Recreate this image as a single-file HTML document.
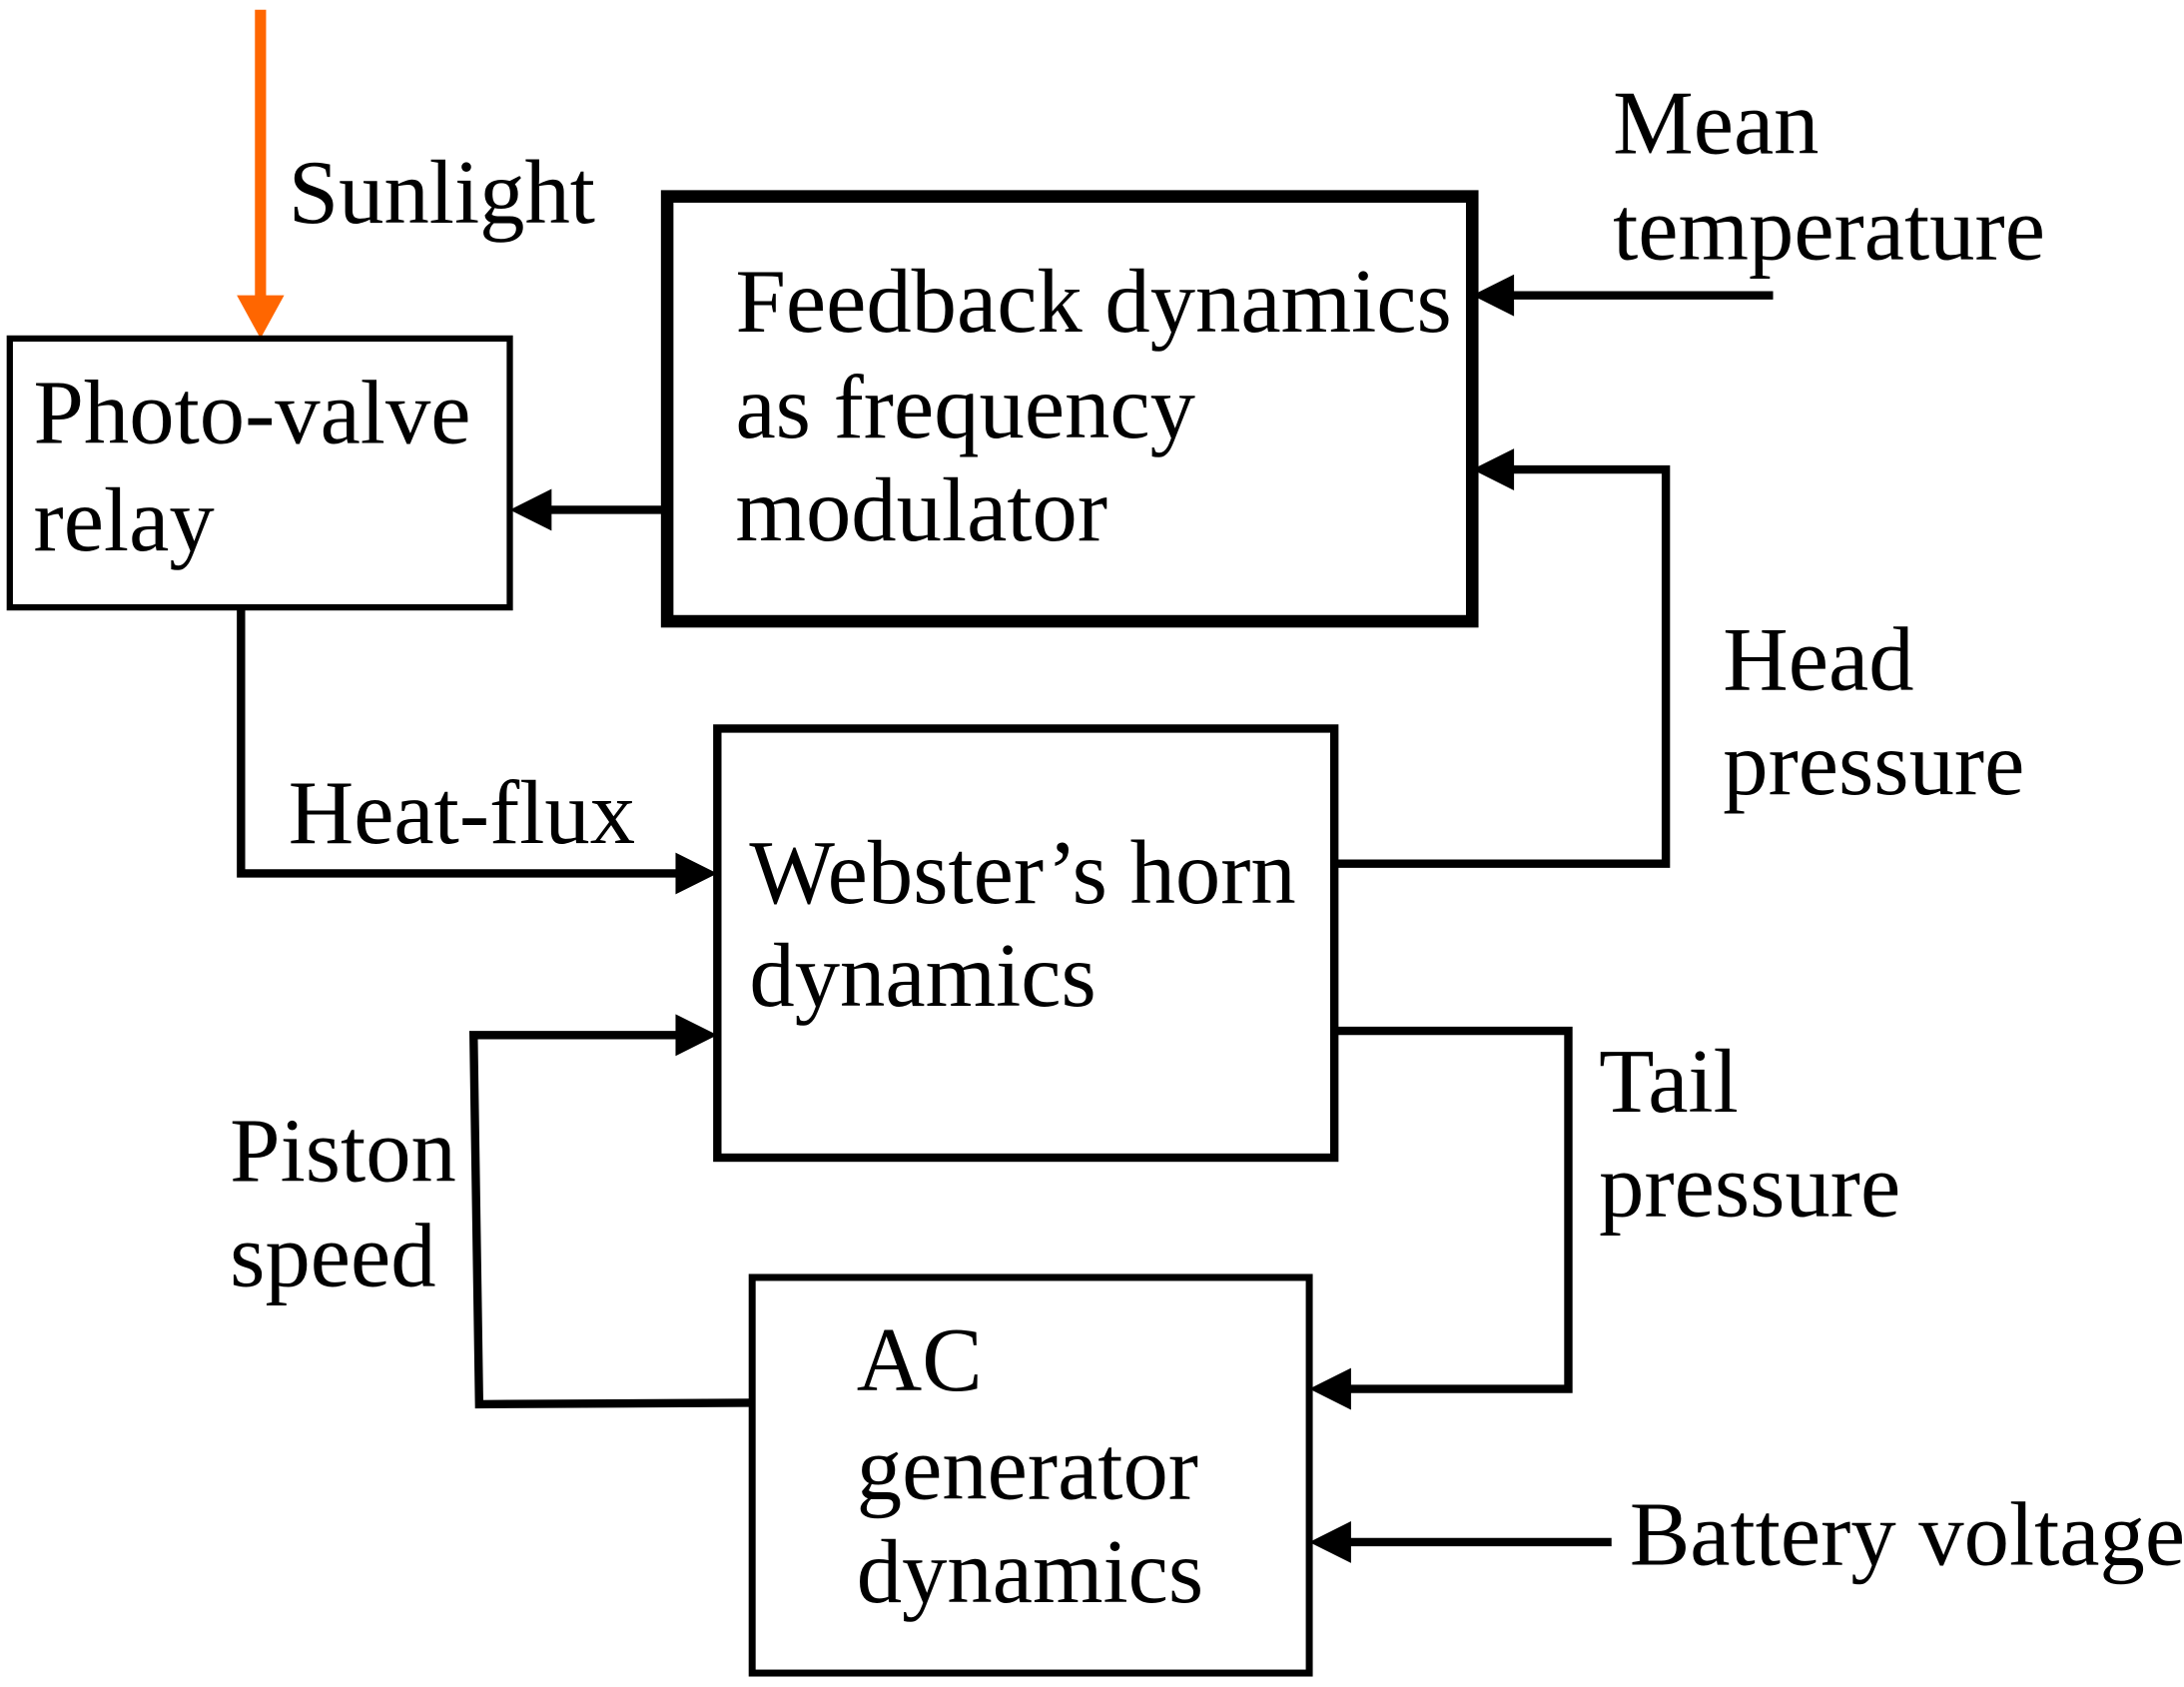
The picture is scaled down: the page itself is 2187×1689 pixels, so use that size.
<!DOCTYPE html>
<html><head><meta charset="utf-8"><style>
html,body{margin:0;padding:0;background:#fff;}
svg{display:block;}
text{font-family:"Liberation Serif",serif;font-size:65px;fill:#000;}
</style></head><body>
<svg width="2187" height="1689" viewBox="0 0 1568 1211" xmlns="http://www.w3.org/2000/svg">
<rect width="1568" height="1211" fill="#fff"/>
<line x1="187" y1="7" x2="187" y2="215" stroke="#ff6600" stroke-width="8"/>
<polygon points="170,212 204,212 187,243" fill="#ff6600"/>
<text x="207" y="160">Sunlight</text>
<rect x="7" y="243" width="359" height="193" fill="none" stroke="#000" stroke-width="4.5"/>
<text x="24" y="318">Photo-valve</text>
<text x="24" y="395">relay</text>
<rect x="479" y="141" width="578" height="305" fill="none" stroke="#000" stroke-width="9"/>
<text x="528" y="238">Feedback dynamics</text>
<text x="528" y="314">as frequency</text>
<text x="528" y="388">modulator</text>
<line x1="477" y1="366" x2="392" y2="366" stroke="#000" stroke-width="6"/>
<polygon points="366,366 396,351 396,381" fill="#000"/>
<text x="1158" y="110">Mean</text>
<text x="1158" y="186">temperature</text>
<line x1="1273" y1="212" x2="1083" y2="212" stroke="#000" stroke-width="6"/>
<polygon points="1057,212 1087,197 1087,227" fill="#000"/>
<polyline points="960,620 1196,620 1196,337 1083,337" fill="none" stroke="#000" stroke-width="6"/>
<polygon points="1057,337 1087,322 1087,352" fill="#000"/>
<text x="1237" y="495">Head</text>
<text x="1237" y="570">pressure</text>
<rect x="515" y="523" width="443" height="308" fill="none" stroke="#000" stroke-width="6"/>
<text x="538" y="648">Webster’s horn</text>
<text x="538" y="722">dynamics</text>
<polyline points="173,436 173,627 489,627" fill="none" stroke="#000" stroke-width="6"/>
<polygon points="515,627 485,612 485,642" fill="#000"/>
<text x="207" y="605">Heat-flux</text>
<polyline points="960,740 1126,740 1126,997 966,997" fill="none" stroke="#000" stroke-width="6"/>
<polygon points="940,997 970,982 970,1012" fill="#000"/>
<text x="1148" y="798">Tail</text>
<text x="1148" y="873">pressure</text>
<polyline points="540,1007 344,1008 340,743 489,743" fill="none" stroke="#000" stroke-width="6"/>
<polygon points="515,743 485,728 485,758" fill="#000"/>
<text x="165" y="848">Piston</text>
<text x="165" y="923">speed</text>
<rect x="540" y="917" width="400" height="284" fill="none" stroke="#000" stroke-width="5"/>
<text x="615" y="998">AC</text>
<text x="615" y="1076">generator</text>
<text x="615" y="1150">dynamics</text>
<line x1="1157" y1="1107" x2="966" y2="1107" stroke="#000" stroke-width="6"/>
<polygon points="940,1107 970,1092 970,1122" fill="#000"/>
<text x="1170" y="1123">Battery voltage</text>
</svg>
</body></html>
